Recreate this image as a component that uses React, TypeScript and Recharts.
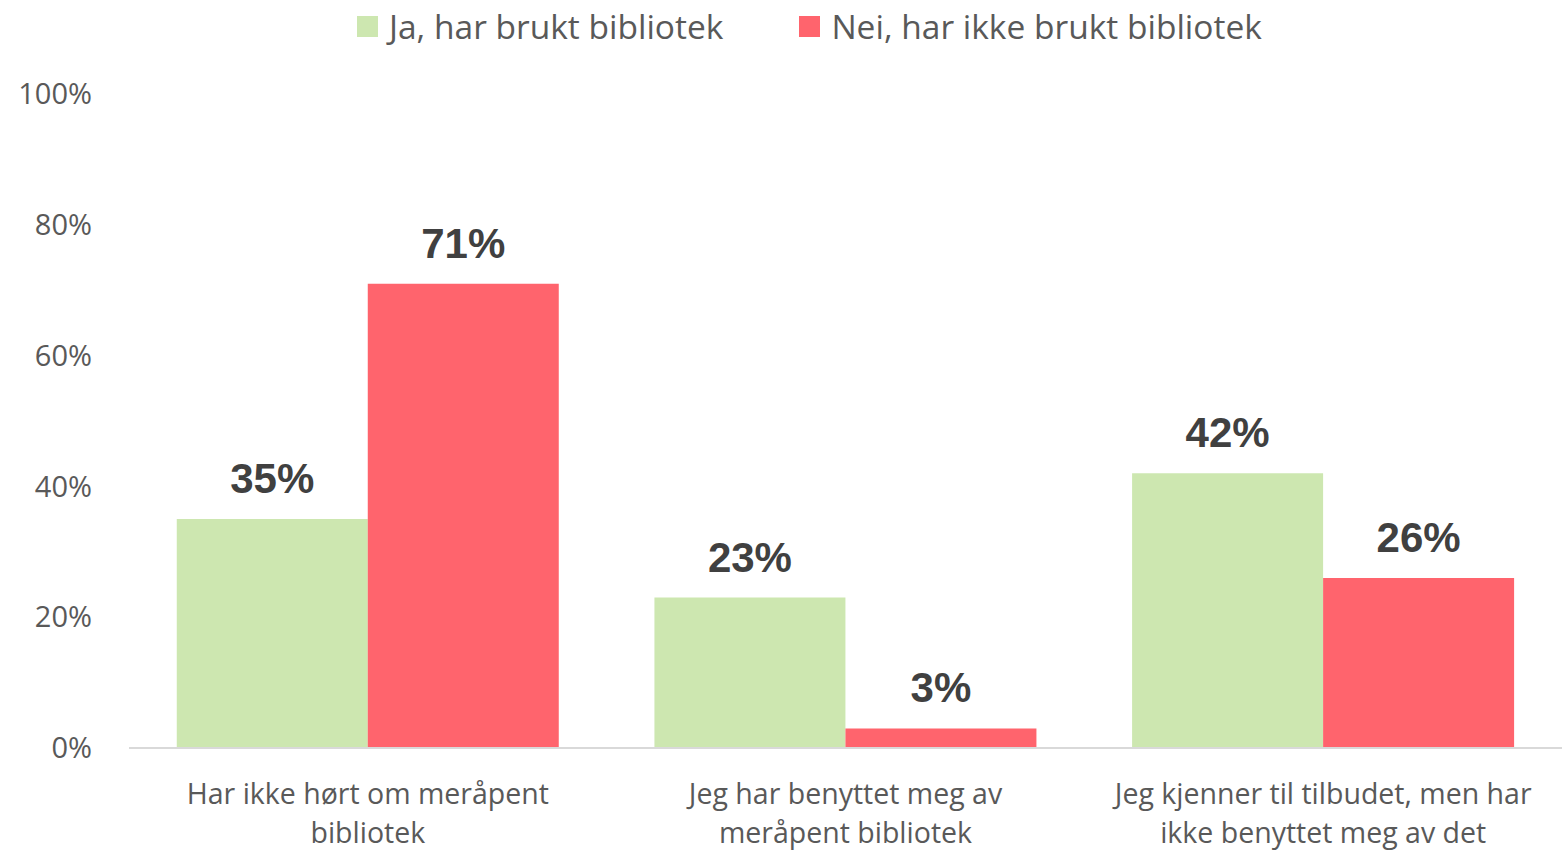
import { BarChart, Bar, XAxis, YAxis, LabelList } from "recharts";

const categories = [
  "Har ikke hørt om meråpent\nbibliotek",
  "Jeg har benyttet meg av\nmeråpent bibliotek",
  "Jeg kjenner til tilbudet, men har\nikke benyttet meg av det",
];
const bruktValues = [35, 23, 42];
const ikkeBruktValues = [71, 3, 26];
const yTicks = [0, 20, 40, 60, 80, 100];
const seriesNames = ["Ja, har brukt bibliotek", "Nei, har ikke brukt bibliotek"];

const GREEN = "#cde7b0";
const RED = "#ff646d";
const TEXT = "#595959";
const FONT = "'Open Sans', sans-serif";

const data = categories.map((c, i) => ({
  name: c,
  brukt: bruktValues[i],
  ikke: ikkeBruktValues[i],
}));

function CategoryTick(props: any) {
  const { x, y, payload } = props;
  const lines = String(payload.value).split("\n");
  return (
    <text
      x={x}
      y={y}
      textAnchor="middle"
      fill={TEXT}
      fontSize={28.5}
      fontFamily={FONT}
    >
      {lines.map((l, i) => (
        <tspan key={i} x={x} dy={i === 0 ? 48 : 39}>
          {l}
        </tspan>
      ))}
    </text>
  );
}

export default function App() {
  return (
    <div
      style={{
        position: "absolute",
        left: 0,
        top: 0,
        width: 1562,
        height: 855,
        background: "#fff",
        overflow: "hidden",
      }}
    >
      <div
        style={{
          position: "absolute",
          top: 3,
          left: 357,
          display: "flex",
          gap: 76,
          fontFamily: FONT,
          fontSize: 33.5,
          color: TEXT,
          whiteSpace: "nowrap",
        }}
      >
        {seriesNames.map((n, i) => (
          <span key={n} style={{ display: "flex", alignItems: "center" }}>
            <span
              style={{
                width: 21,
                height: 21,
                background: i === 0 ? GREEN : RED,
                marginRight: 11,
                display: "inline-block",
              }}
            />
            {n}
          </span>
        ))}
      </div>
      <BarChart
        width={1562}
        height={855}
        data={data}
        margin={{ top: 94, right: 0, left: 0, bottom: 0 }}
        barCategoryGap="10%"
        barGap={0}
      >
        <XAxis
          dataKey="name"
          height={107}
          tickLine={false}
          axisLine={{ stroke: "#d9d9d9", strokeWidth: 2 }}
          tick={<CategoryTick />}
          interval={0}
        />
        <YAxis
          width={129}
          domain={[0, 100]}
          ticks={yTicks}
          axisLine={false}
          tickLine={false}
          tickSize={0}
          tickMargin={37}
          tickFormatter={(v) => `${v}%`}
          tick={{ fill: TEXT, fontSize: 29, fontFamily: FONT }}
        />
        <Bar dataKey="brukt" fill={GREEN} isAnimationActive={false}>
          <LabelList
            dataKey="brukt"
            position="top"
            offset={26}
            formatter={(v: any) => `${v}%`}
            fill="#404040"
            fontSize={42}
            fontWeight="bold"
            fontFamily="'Liberation Sans', Arial, sans-serif"
          />
        </Bar>
        <Bar dataKey="ikke" fill={RED} isAnimationActive={false}>
          <LabelList
            dataKey="ikke"
            position="top"
            offset={26}
            formatter={(v: any) => `${v}%`}
            fill="#404040"
            fontSize={42}
            fontWeight="bold"
            fontFamily="'Liberation Sans', Arial, sans-serif"
          />
        </Bar>
      </BarChart>
    </div>
  );
}
